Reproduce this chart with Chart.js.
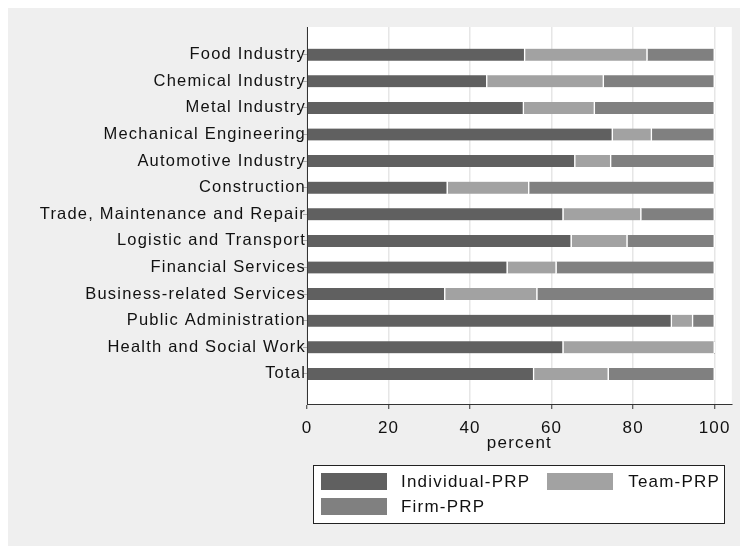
<!DOCTYPE html>
<html>
<head>
<meta charset="utf-8">
<script src="https://cdn.jsdelivr.net/npm/chart.js@4/dist/chart.umd.min.js"></script>
<style>
  html, body { margin: 0; padding: 0; background: #fff; }
  #wrap { width: 740px; height: 546px; }
</style>
</head>
<body>
<div id="wrap"><canvas id="prpChart" width="740" height="546"></canvas></div>
<script>
// datos (porcentajes)
const categories = ['Food Industry', 'Chemical Industry', 'Metal Industry', 'Mechanical Engineering',
    'Automotive Industry', 'Construction', 'Trade, Maintenance and Repair', 'Logistic and Transport',
    'Financial Services', 'Business-related Services', 'Public Administration',
    'Health and Social Work', 'Total'];
const individualPRP = [53.5, 44.2, 53.2, 75.0, 65.8, 34.5, 62.9, 64.9, 49.2, 33.9, 89.5, 62.9, 55.7];
const teamPRP       = [30.0, 28.6, 17.4,  9.6,  8.8, 20.0, 19.1, 13.7, 12.0, 22.6,  5.2, 37.1, 18.3];
const firmPRP       = [16.5, 27.2, 29.4, 15.4, 25.4, 45.5, 18.0, 21.4, 38.8, 43.5,  5.3,  0.0, 26.0];
const xTicks = [0, 20, 40, 60, 80, 100];

const FONT = "'Liberation Sans', Arial, sans-serif";
const toPoints = arr => arr.map((v, i) => ({x: v, y: i}));

// fondo gris + area blanca + espaciado de letras
const fondo = {
    id: 'fondo',
    beforeLayout(chart) { chart.ctx.letterSpacing = '1.2px'; },
    beforeDraw(chart) {
        const ctx = chart.ctx;
        const a = chart.chartArea;
        ctx.save();
        ctx.fillStyle = '#ffffff';
        ctx.fillRect(0, 0, chart.width, chart.height);
        ctx.fillStyle = '#efefef';
        ctx.fillRect(8, 8, chart.width - 8, chart.height - 8);
        ctx.fillStyle = '#ffffff';
        ctx.fillRect(a.left, a.top, a.right - a.left, a.bottom - a.top);
        ctx.restore();
        ctx.letterSpacing = '1.2px';
    }
};

// leyenda con caja, estilo stata
const leyenda = {
    id: 'leyenda',
    afterDraw(chart) {
        const ctx = chart.ctx;
        const ds = chart.data.datasets;
        const slots = [{x: 321, y: 473, tx: 401, align: 'left'},
                       {x: 547, y: 473, tx: 720, align: 'right'},
                       {x: 321, y: 498, tx: 401, align: 'left'}];
        ctx.save();
        ctx.fillStyle = '#ffffff';
        ctx.fillRect(313, 465, 412, 59);
        ctx.strokeStyle = '#222';
        ctx.lineWidth = 1;
        ctx.strokeRect(313.5, 465.5, 411, 58);
        ctx.font = '17px ' + FONT;
        ctx.textBaseline = 'middle';
        ds.forEach((d, i) => {
            const s = slots[i];
            ctx.fillStyle = d.backgroundColor;
            ctx.fillRect(s.x, s.y, 66, 17);
            ctx.fillStyle = '#111';
            ctx.textAlign = s.align;
            ctx.fillText(d.label, s.tx, s.y + 9);
        });
        ctx.restore();
    }
};

new Chart(document.getElementById('prpChart'), {
    type: 'bar',
    data: {
        datasets: [
            {label: 'Individual-PRP', data: toPoints(individualPRP), backgroundColor: '#606060'},
            {label: 'Team-PRP', data: toPoints(teamPRP), backgroundColor: '#a2a2a2'},
            {label: 'Firm-PRP', data: toPoints(firmPRP), backgroundColor: '#808080'},
        ],
    },
    options: {
        responsive: false,
        animation: false,
        indexAxis: 'y',
        layout: {padding: {left: 0, right: 8, top: 27, bottom: 92}},
        datasets: {bar: {barThickness: 12, borderColor: '#ffffff',
            borderWidth: {left: 0, top: 0, bottom: 0, right: 1.5}, borderSkipped: false}},
        plugins: {legend: {display: false}, tooltip: {enabled: false}},
        scales: {
            x: {
                type: 'linear', stacked: true, min: 0, max: 104.2, bounds: 'data',
                afterBuildTicks: s => { s.ticks = xTicks.map(v => ({value: v})); },
                afterFit: s => { s.height = 50; },
                grid: {color: '#e6e6e6', lineWidth: 1.5, tickLength: 5, tickColor: '#333', tickWidth: 1},
                border: {color: '#333', width: 1},
                ticks: {color: '#111', font: {family: FONT, size: 17}, padding: 9, maxRotation: 0},
                title: {display: true, text: 'percent', color: '#111', font: {family: FONT, size: 17},
                    padding: {top: 0, bottom: 0}},
            },
            y: {
                type: 'linear', stacked: true, reverse: true, min: -1.04, max: 13.13, bounds: 'data',
                offset: false,
                afterBuildTicks: s => { s.ticks = categories.map((c, i) => ({value: i})); },
                afterFit: s => { s.width = 307; },
                grid: {drawOnChartArea: false, offset: false, tickLength: 4, tickColor: '#aaa'},
                border: {color: '#333', width: 1},
                ticks: {color: '#111', font: {family: FONT, size: 16.5}, padding: -3, autoSkip: false,
                    callback: v => categories[v]},
            },
        },
    },
    plugins: [fondo, leyenda],
});
</script>
</body>
</html>
